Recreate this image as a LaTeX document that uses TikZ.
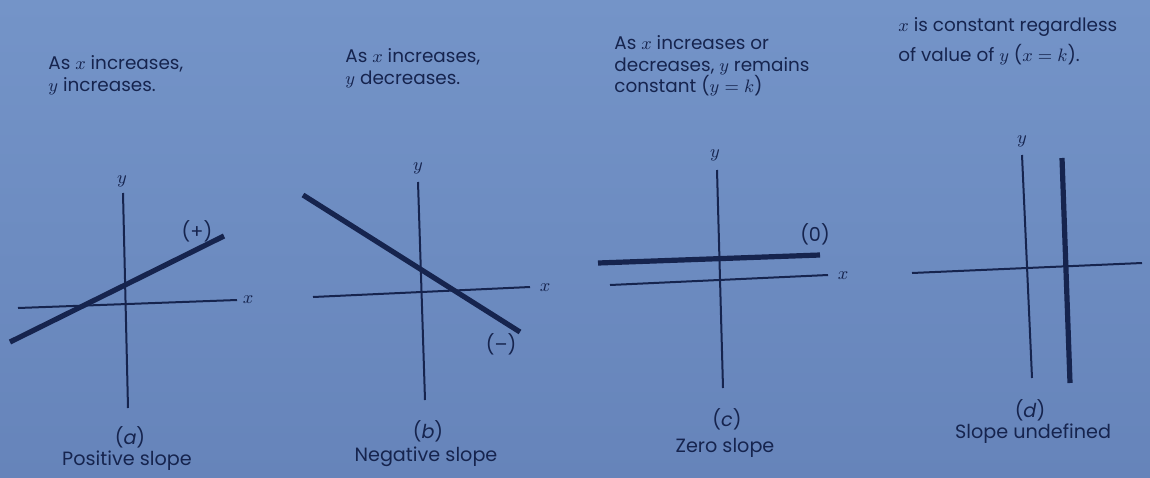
\documentclass[tikz,border=0pt]{standalone}
\usepackage{fontspec}
\setmainfont{Poppins}
\definecolor{ink}{RGB}{22,36,78}
\definecolor{bgtop}{RGB}{116,148,200}
\definecolor{bgbot}{RGB}{102,132,186}
\tikzset{
  axisline/.style={draw=ink, line width=1pt},
  graphline/.style={draw=ink, line width=2.6pt},
  desc/.style={text=ink, font=\fontsize{9.2}{10.8}\selectfont, inner sep=0pt, anchor=north west, align=left},
  axlbl/.style={text=ink, font=\fontsize{9}{10}\selectfont, inner sep=0pt},
  captext/.style={text=ink, font=\fontsize{9.6}{11}\selectfont, inner sep=0pt},
}
\begin{document}
\begin{tikzpicture}[x=0.5pt, y=-0.5pt]
\useasboundingbox (0,0) rectangle (1150,477);
\shade[top color=bgtop, bottom color=bgbot] (0,0) rectangle (1150,477);

% ---------- panel (a)
\node[desc] (ta) at (48,55) {As $x$ increases,\\ $y$ increases.};
\coordinate (ayt) at (123,193);
\coordinate (ayb) at (128,408);
\coordinate (axl) at (18,308);
\coordinate (axr) at (237,300);
\coordinate (aga) at (10,342);
\coordinate (agb) at (224,236);
\draw[axisline] (ayt) -- (ayb);
\draw[axisline] (axl) -- (axr);
\draw[graphline] (aga) -- (agb);
\node[axlbl] (ay) at (122,181) {$y$};
\node[axlbl] (ax) at (248,300) {$x$};
\node[captext] (ap) at (197,231) {(+)};
\node[captext] (ac) at (130,437) {(\textit{a})};
\node[captext] (an) at (127,461) {Positive slope};

% ---------- panel (b)
\node[desc] (tb) at (345,48) {As $x$ increases,\\ $y$ decreases.};
\coordinate (byt) at (418,182);
\coordinate (byb) at (425,400);
\coordinate (bxl) at (313,297);
\coordinate (bxr) at (530,287);
\coordinate (bga) at (303,195);
\coordinate (bgb) at (520,332);
\draw[axisline] (byt) -- (byb);
\draw[axisline] (bxl) -- (bxr);
\draw[graphline] (bga) -- (bgb);
\node[axlbl] (by) at (418,168) {$y$};
\node[axlbl] (bx) at (545,288) {$x$};
\node[captext] (bm) at (501,344) {(–)};
\node[captext] (bc) at (428,431) {(\textit{b})};
\node[captext] (bn) at (426,457) {Negative slope};

% ---------- panel (c)
\node[desc] (tc) at (614,35) {As $x$ increases or\\ decreases, $y$ remains\\ constant ($y=k$)};
\coordinate (cyt) at (717,170);
\coordinate (cyb) at (723,388);
\coordinate (cxl) at (610,285);
\coordinate (cxr) at (828,275);
\coordinate (cga) at (598,263);
\coordinate (cgb) at (820,255);
\draw[axisline] (cyt) -- (cyb);
\draw[axisline] (cxl) -- (cxr);
\draw[graphline] (cga) -- (cgb);
\node[axlbl] (cy) at (715,155) {$y$};
\node[axlbl] (cx) at (843,276) {$x$};
\node[captext] (cz) at (815,234) {(0)};
\node[captext] (cc) at (727,419) {(\textit{c})};
\node[captext] (cn) at (725,448) {Zero slope};

% ---------- panel (d)
\node[desc] (td) at (898,17) {$x$ is constant regardless\\[3pt] of value of $y$ ($x=k$).};
\coordinate (dyt) at (1022,155);
\coordinate (dyb) at (1032,378);
\coordinate (dxl) at (912,273);
\coordinate (dxr) at (1142,263);
\coordinate (dga) at (1062,158);
\coordinate (dgb) at (1070,383);
\draw[axisline] (dyt) -- (dyb);
\draw[axisline] (dxl) -- (dxr);
\draw[graphline] (dga) -- (dgb);
\node[axlbl] (dy) at (1022,141) {$y$};
\node[captext] (dc) at (1030,410) {(\textit{d})};
\node[captext] (dn) at (1033,434) {Slope undefined};
\end{tikzpicture}
\end{document}
